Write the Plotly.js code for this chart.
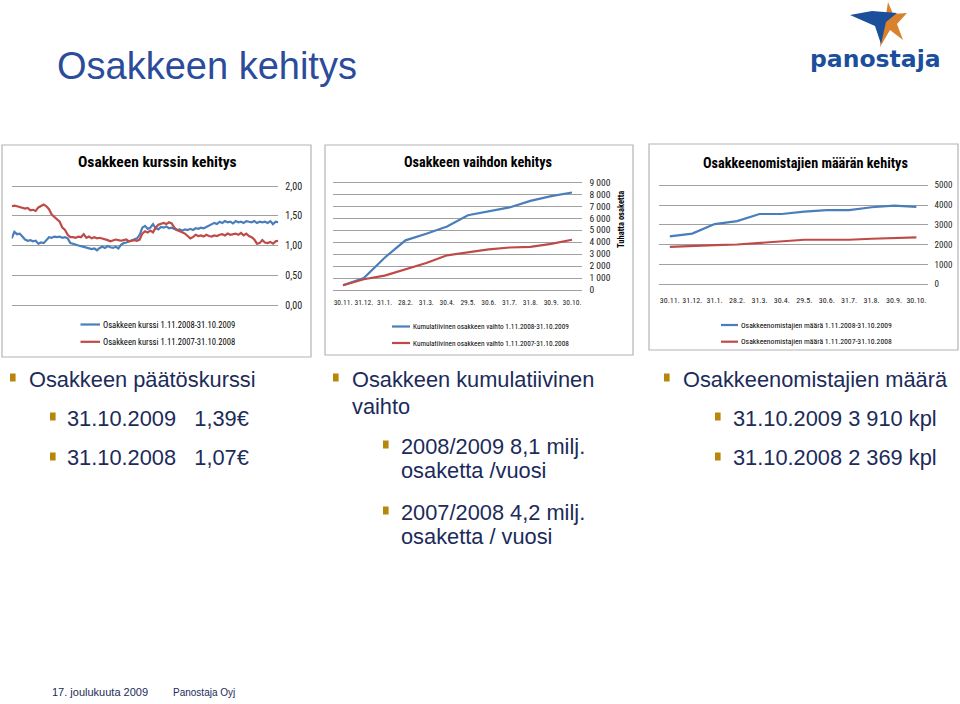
<!DOCTYPE html>
<html>
<head>
<meta charset="utf-8">
<script src="https://cdn.plot.ly/plotly-3.0.1.min.js"></script>
<style>
  html, body { margin: 0; padding: 0; background: #ffffff; }
  #chart { width: 960px; height: 704px; }
</style>
</head>
<body>
<div id="chart"></div>
<script>
// ---------- DATA ----------
// Chart 1: share price (EUR), trading-day samples
const kurssi2009 = [1.12,1.23,1.19,1.20,1.15,1.10,1.08,1.09,1.07,1.08,1.03,1.05,1.04,1.10,1.14,1.13,1.15,1.14,1.15,1.13,
  1.14,1.12,1.04,1.03,1.01,1.00,0.99,0.98,0.97,0.96,0.94,0.95,0.92,0.96,0.98,0.96,0.99,0.97,0.96,0.98,
  0.95,1.01,1.04,1.05,1.07,1.08,1.10,1.12,1.18,1.30,1.33,1.28,1.30,1.36,1.29,1.27,1.31,1.30,1.32,1.29,
  1.30,1.28,1.26,1.27,1.25,1.27,1.26,1.28,1.26,1.29,1.28,1.30,1.29,1.31,1.33,1.36,1.38,1.36,1.40,1.38,
  1.41,1.39,1.40,1.37,1.41,1.39,1.40,1.38,1.41,1.40,1.39,1.41,1.38,1.40,1.39,1.40,1.38,1.41,1.36,1.40,1.39];
const kurssi2008 = [1.66,1.67,1.66,1.65,1.64,1.62,1.63,1.59,1.60,1.58,1.64,1.66,1.69,1.66,1.61,1.52,1.48,1.45,1.40,1.30,
  1.26,1.18,1.14,1.14,1.13,1.15,1.14,1.19,1.13,1.15,1.12,1.14,1.12,1.13,1.12,1.10,1.09,1.07,1.09,1.10,
  1.09,1.08,1.09,1.10,1.07,1.08,1.09,1.08,1.10,1.20,1.24,1.22,1.25,1.22,1.30,1.35,1.37,1.38,1.36,1.39,
  1.37,1.30,1.26,1.24,1.22,1.20,1.16,1.12,1.14,1.18,1.16,1.17,1.15,1.18,1.16,1.15,1.17,1.16,1.18,1.19,
  1.17,1.20,1.18,1.19,1.20,1.18,1.21,1.17,1.20,1.16,1.14,1.10,1.03,1.04,1.09,1.05,1.04,1.06,1.03,1.07,1.08];
const kurssiTicks = [0, 0.5, 1.0, 1.5, 2.0];

// Chart 2 & 3 categories
const kuukaudet = ['30.11.','31.12.','31.1.','28.2.','31.3.','30.4.','29.5.','30.6.','31.7.','31.8.','30.9.','30.10.'];
// Chart 2: cumulative turnover (thousand shares)
const vaihto2009 = [400,1000,2700,4150,4700,5300,6250,6600,6900,7450,7850,8150];
const vaihto2008 = [400,900,1200,1700,2250,2900,3150,3400,3550,3600,3850,4200];
const vaihtoTicks = [0,1000,2000,3000,4000,5000,6000,7000,8000,9000];
// Chart 3: number of shareholders
const omistajat2009 = [2420,2560,3040,3190,3550,3550,3670,3750,3750,3890,3975,3910];
const omistajat2008 = [1890,1945,1980,2010,2080,2180,2250,2250,2250,2300,2350,2369];
const omistajaTicks = [0,1000,2000,3000,4000,5000];

const nimet1 = ['Osakkeen kurssi 1.11.2008-31.10.2009','Osakkeen kurssi 1.11.2007-31.10.2008'];
const nimet2 = ['Kumulatiivinen osakkeen vaihto 1.11.2008-31.10.2009','Kumulatiivinen osakkeen vaihto 1.11.2007-31.10.2008'];
const nimet3 = ['Osakkeenomistajien määrä 1.11.2008-31.10.2009','Osakkeenomistajien määrä 1.11.2007-31.10.2008'];

// ---------- LAYOUT HELPERS ----------
const W = 960, H = 704;
const px = x => x / W;
const py = y => 1 - y / H;
const BLUE = '#4A7EBB', RED = '#BE4B48';
const COLORS = [BLUE, RED];
const NARROW = '"Liberation Sans Narrow", "Arial Narrow", "Roboto Condensed", Roboto, sans-serif';
const SANS = '"Liberation Sans", Arial, sans-serif';
const NAVY = '#1C2B5A';
const GOLD = '#B8860B';
const GRID = '#a0a0a0';

// vertical domain so that value v0 sits at pixel p0 and v1 at pixel p1, with range [lo, hi]
function ydom(p0, p1, v0, v1, lo, hi) {
  const k = (p0 - p1) / (v1 - v0);
  const bottom = p0 + (v0 - lo) * k;
  const top = p1 - (hi - v1) * k;
  return [py(bottom), py(top)];
}

const traces = [
  {y: kurssi2009, xaxis:'x', yaxis:'y', name:nimet1[0], type:'scatter', mode:'lines', line:{color:BLUE, width:2.2}},
  {y: kurssi2008, xaxis:'x', yaxis:'y', name:nimet1[1], type:'scatter', mode:'lines', line:{color:RED, width:2.2}},
  {x: kuukaudet, y: vaihto2009, xaxis:'x2', yaxis:'y2', name:nimet2[0], type:'scatter', mode:'lines', line:{color:BLUE, width:2.2}},
  {x: kuukaudet, y: vaihto2008, xaxis:'x2', yaxis:'y2', name:nimet2[1], type:'scatter', mode:'lines', line:{color:RED, width:2.2}},
  {x: kuukaudet, y: omistajat2009, xaxis:'x3', yaxis:'y3', name:nimet3[0], type:'scatter', mode:'lines', line:{color:BLUE, width:2.2}},
  {x: kuukaudet, y: omistajat2008, xaxis:'x3', yaxis:'y3', name:nimet3[1], type:'scatter', mode:'lines', line:{color:RED, width:2.2}}
];

function ann(text, x, y, size, opts) {
  return Object.assign({
    text: text, x: px(x), y: py(y), xref: 'paper', yref: 'paper',
    xanchor: 'left', yanchor: 'middle', showarrow: false,
    font: {family: SANS, size: size, color: NAVY}
  }, opts || {});
}

const annotations = [
  ann('Osakkeen kehitys', 55, 66, 38, {font:{family:SANS, size:38, color:'#2B4C9B'}}),
  ann('<b>panostaja</b>', 808, 59, 23.5, {font:{family:'"DejaVu Sans", Verdana, sans-serif', size:23.5, color:'#1B4F9C'}}),
  // chart titles
  ann('<b>Osakkeen kurssin kehitys</b>', 157, 162, 15.5, {xanchor:'center', font:{family:NARROW, size:15.5, color:'#000'}}),
  ann('<b>Osakkeen vaihdon kehitys</b>', 478, 162, 14.2, {xanchor:'center', font:{family:NARROW, size:14.2, color:'#000'}}),
  ann('<b>Osakkeenomistajien määrän kehitys</b>', 805, 163, 14.2, {xanchor:'center', font:{family:NARROW, size:14.2, color:'#000'}}),
  ann('<b>Tuhatta osaketta</b>', 621, 220, 8.5, {xanchor:'center', textangle:-90, font:{family:NARROW, size:8.5, color:'#000'}}),
  // bullet texts column 1
  ann('Osakkeen päätöskurssi', 27, 379, 21.8),
  ann('31.10.2009\u00A0\u00A0\u00A01,39€', 65, 418, 21.8),
  ann('31.10.2008\u00A0\u00A0\u00A01,07€', 65, 458, 21.8),
  // column 2
  ann('Osakkeen kumulatiivinen', 350, 379, 21.8),
  ann('vaihto', 350, 406, 21.8),
  ann('2008/2009 8,1 milj.', 399, 446, 21.8),
  ann('osaketta /vuosi', 399, 470, 21.8),
  ann('2007/2008 4,2 milj.', 399, 512, 21.8),
  ann('osaketta / vuosi', 399, 536, 21.8),
  // column 3
  ann('Osakkeenomistajien määrä', 681, 379, 21.8),
  ann('31.10.2009\u00A03 910 kpl', 731, 418, 21.8),
  ann('31.10.2008\u00A02 369 kpl', 731, 458, 21.8),
  // footer
  ann('17. joulukuuta 2009', 50, 692, 11),
  ann('Panostaja Oyj', 171, 692, 10)
];

function rect(x0, y0, x1, y1, line, fill) {
  return {type:'rect', xref:'paper', yref:'paper', x0:px(x0), x1:px(x1), y0:py(y1), y1:py(y0),
          line: line, fillcolor: fill || 'rgba(0,0,0,0)', layer:'below'};
}
function bullet(x, y, s) {
  return rect(x, y - s/2 - 1, x + s*0.8, y + s/2, {width:0}, GOLD);
}
function pathShape(pts, color) {
  let d = 'M ' + pts.map(p => px(p[0]) + ',' + py(p[1])).join(' L ') + ' Z';
  return {type:'path', xref:'paper', yref:'paper', path:d, fillcolor:color, line:{width:0}};
}

const shapes = [
  rect(2, 145, 311, 357, {color:'#b4b4b4', width:1.2}),
  rect(325, 145, 633, 355, {color:'#b4b4b4', width:1.2}),
  rect(649, 144, 958, 350, {color:'#b4b4b4', width:1.2}),
  bullet(10, 378, 7), bullet(50, 417, 7), bullet(50, 457, 7),
  bullet(333, 378, 7), bullet(383, 445, 7), bullet(383, 511, 7),
  bullet(664, 378, 7), bullet(715, 417, 7), bullet(715, 457, 7),
  // logo star
  pathShape([[888,2],[893,14],[907,13],[897,24],[903,40],[890,30],[880,47],[882,27],[872,18],[886,15]], '#D9822B'),
  pathShape([[850,15],[872,11],[897,13],[886,22],[881,44],[875,26]], '#1B4F9C')
];

// manual legends (Excel-style compact entries)
function legendBlock(names, xLine0, xLine1, yFirst, gap, size) {
  names.forEach((n, i) => {
    const y = yFirst + i * gap;
    shapes.push({type:'line', xref:'paper', yref:'paper', x0:px(xLine0), x1:px(xLine1), y0:py(y), y1:py(y),
                 line:{color:COLORS[i], width:2.2}});
    annotations.push(ann(n, xLine1 + 0.5, y, size, {font:{family:NARROW, size:size, color:'#000'}}));
  });
}
legendBlock(nimet1, 80.5, 100, 324.5, 17.3, 8.6);
legendBlock(nimet2, 392, 410, 326.5, 16.5, 7.3);
legendBlock(nimet3, 721, 738, 325, 16.7, 7.7);

const layout = {
  width: W, height: H,
  margin: {l:0, r:0, t:0, b:0},
  paper_bgcolor: '#ffffff', plot_bgcolor: 'rgba(0,0,0,0)',
  separators: ', ',
  showlegend: false,
  xaxis: {domain:[px(11.7), px(278.3)], range:[0, kurssi2009.length - 1], visible:false, anchor:'y', fixedrange:true},
  yaxis: {domain: ydom(305, 186, 0, 2, -0.04, 2.04), range:[-0.04, 2.04], tickvals: kurssiTicks, tickformat:'.2f', side:'right', anchor:'x',
          showgrid:true, gridcolor:GRID, gridwidth:1, zeroline:false, showline:false, ticks:'', ticklabelstandoff:6,
          tickfont:{family:NARROW, size:10, color:'#222'}, fixedrange:true},
  xaxis2: {domain:[px(332.6), px(582.4)], type:'category', range:[-0.5, 11.5], tickmode:'array', tickvals:kuukaudet, ticktext:kuukaudet,
           tickangle:0, showgrid:false, zeroline:false, showline:false, ticks:'', anchor:'y2', ticklabelstandoff:5,
           tickfont:{family:NARROW, size:7.5, color:'#222'}, fixedrange:true},
  yaxis2: {domain: ydom(290, 182.3, 0, 9000, -150, 9150), range:[-150, 9150], tickvals: vaihtoTicks, tickformat:',d', side:'right', anchor:'x2',
           showgrid:true, gridcolor:GRID, zeroline:false, showline:false, ticks:'', ticklabelstandoff:6,
           tickfont:{family:NARROW, size:9.5, color:'#222'}, fixedrange:true},
  xaxis3: {domain:[px(658.6), px(927.6)], type:'category', range:[-0.5, 11.5], tickmode:'array', tickvals:kuukaudet, ticktext:kuukaudet,
           tickangle:0, showgrid:false, zeroline:false, showline:false, ticks:'', anchor:'y3', ticklabelstandoff:8,
           tickfont:{family:NARROW, size:8, color:'#222'}, fixedrange:true},
  yaxis3: {domain: ydom(284.3, 185.3, 0, 5000, -80, 5080), range:[-80, 5080], tickvals: omistajaTicks, tickformat:'d', side:'right', anchor:'x3',
           showgrid:true, gridcolor:GRID, zeroline:false, showline:false, ticks:'', ticklabelstandoff:6,
           tickfont:{family:NARROW, size:9, color:'#222'}, fixedrange:true},
  annotations: annotations,
  shapes: shapes
};

Plotly.newPlot('chart', traces, layout, {staticPlot:true, displayModeBar:false});
</script>
</body>
</html>
